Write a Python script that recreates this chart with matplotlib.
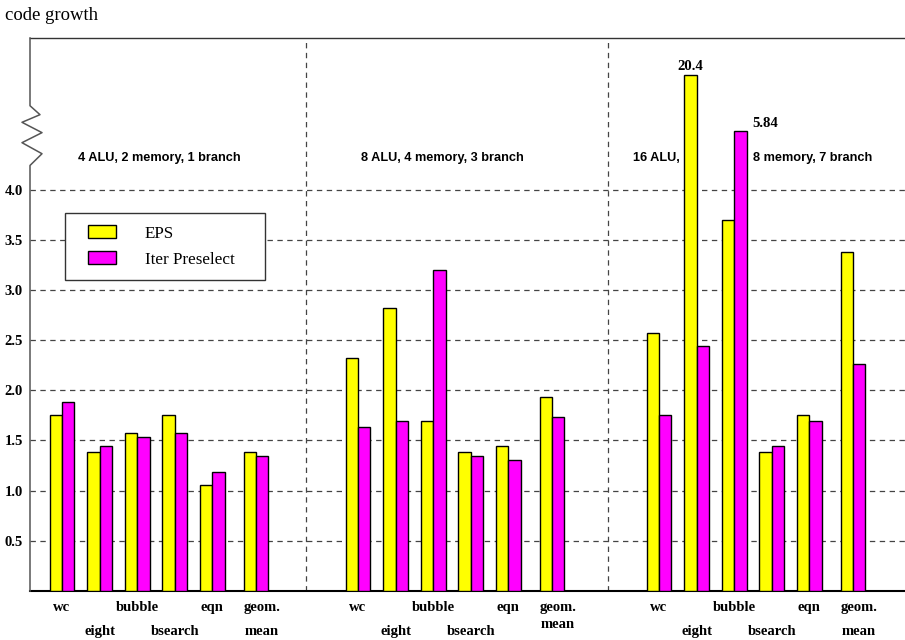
import matplotlib
matplotlib.use("Agg")
import matplotlib.pyplot as plt
from matplotlib.container import BarContainer
from matplotlib.legend_handler import HandlerPatch, update_from_first_child
from matplotlib.patches import Rectangle
import numpy as np

plt.rcParams["font.family"] = "serif"
plt.rcParams["font.serif"] = ["Liberation Serif", "DejaVu Serif"]

benchmarks = ["wc", "eight", "bubble", "bsearch", "eqn", "geom.\nmean"]
configs = ["4 ALU, 2 memory, 1 branch", "8 ALU, 4 memory, 3 branch", "16 ALU, 8 memory, 7 branch"]
series = ["EPS", "Iter Preselect"]

# code growth per config, one list per benchmark order above
eps = [
    [1.75, 1.38, 1.57, 1.75, 1.06, 1.38],
    [2.32, 2.82, 1.69, 1.38, 1.44, 1.93],
    [2.57, 20.4, 3.70, 1.38, 1.75, 3.38],
]
iter_pre = [
    [1.88, 1.44, 1.53, 1.57, 1.19, 1.35],
    [1.63, 1.69, 3.20, 1.35, 1.31, 1.73],
    [1.75, 2.44, 5.84, 1.44, 1.69, 2.26],
]
yticks = [0.5, 1.0, 1.5, 2.0, 2.5, 3.0, 3.5, 4.0]

BREAK = 4.0


def broken(v):
    # values above the break are squeezed into the space above 4.0
    v = np.asarray(v, dtype=float)
    extra = np.clip(v - BREAK, 0, None)
    return np.where(v <= BREAK, v, BREAK + 0.4805 * extra ** 0.309)


def inset_patch(legend, orig_handle, xdescent, ydescent, width, height, fontsize):
    # swatch sits at the right end of the handle box, leaving a gap to the frame
    w = 1.64 * fontsize
    return Rectangle((-xdescent + width - w, -ydescent), w, height)


fig = plt.figure(figsize=(9.05, 6.4), dpi=100)
ax = fig.add_axes([30 / 905, 49 / 640, 875 / 905, 553 / 640])
ax.set_xlim(0, 875)
ax.set_ylim(0, 5.51)

step = 37.6
width = 12.4
group_start = [32, 328, 629]
slot = np.array([0, 1, 2, 3, 4, 5.16]) * step

yellow, magenta = "#ffff00", "#ff00ff"
row1, row2 = 7.0, 24.5
tick_pos, tick_lab, tick_pad = [], [], []
for g in range(3):
    centers = group_start[g] + slot
    b1 = ax.bar(centers - width / 2, broken(eps[g]), width, color=yellow,
                edgecolor="black", linewidth=1.0, zorder=3, label=series[0])
    b2 = ax.bar(centers + width / 2, broken(iter_pre[g]), width, color=magenta,
                edgecolor="black", linewidth=1.0, zorder=3, label=series[1])
    if g == 0:
        handles = [b1, b2]
    for k, name in enumerate(benchmarks):
        x = centers[k]
        if k == 5:
            x += 6
            if g == 1:
                tick_pos.append(x)
                tick_lab.append(name)
                tick_pad.append(row1)
            else:
                first, second = name.split("\n")
                tick_pos += [x, x + 0.01]
                tick_lab += [first, second]
                tick_pad += [row1, row2]
        else:
            tick_pos.append(x)
            tick_lab.append(name)
            tick_pad.append(row1 if k % 2 == 0 else row2)

    # values that run past the break get printed
    for vals, bars, side in ((eps[g], b1, "top"), (iter_pre[g], b2, "right")):
        for v, bar in zip(vals, bars):
            if v > BREAK:
                h = bar.get_height()
                if side == "top":
                    ax.text(bar.get_x() + bar.get_width() / 2, h + 0.02, f"{v:.1f}",
                            ha="center", va="bottom", fontsize=10.6, fontweight="bold")
                else:
                    ax.text(bar.get_x() + bar.get_width() + 6, h + 0.01, f"{v:.2f}",
                            ha="left", va="bottom", fontsize=10.6, fontweight="bold")

ax.set_xticks(tick_pos)
ax.set_xticklabels(tick_lab, fontsize=10.5, fontweight="bold", linespacing=1.45)
for tick, pad in zip(ax.xaxis.get_major_ticks(), tick_pad):
    tick.set_pad(pad)
ax.tick_params(axis="x", length=0)

ax.set_yticks(yticks)
ax.set_yticklabels([f"{t:.1f}" for t in yticks], fontsize=10.5, fontweight="bold")
ax.tick_params(axis="y", length=0, pad=5)
ax.yaxis.grid(True, linestyle=(0, (4.3, 3.6)), color="#444444", linewidth=0.9, zorder=1)
ax.set_axisbelow(True)

for xd in (276, 578):
    ax.axvline(xd, linestyle=(0, (4.3, 3.6)), color="#444444", linewidth=0.9, zorder=1)

# group captions
title_kw = dict(fontsize=9.2, fontweight="bold", family=["Liberation Sans"], va="center")
ax.text(129.5, 4.31, configs[0], ha="center", **title_kw)
ax.text(412.5, 4.31, configs[1], ha="center", **title_kw)
left, right = configs[2].split(", ", 1)
ax.text(626.5, 4.31, left + ",", ha="center", **title_kw)
ax.text(723, 4.31, right, ha="left", **title_kw)

# axis frame with a break marker on the left
ax.spines["right"].set_visible(False)
ax.spines["left"].set_visible(False)
ax.spines["top"].set_color("#333333")
ax.spines["top"].set_linewidth(1.0)
ax.spines["bottom"].set_color("black")
ax.spines["bottom"].set_linewidth(1.5)
zig_x = [0, 0, 12, -8, 12, -8, 10, 0, 0]
zig_y = [0, 4.24, 4.357, 4.467, 4.567, 4.67, 4.746, 4.835, 5.51]
ax.plot(zig_x, zig_y, color="#555555", linewidth=1.1, clip_on=False, zorder=4)

leg = ax.legend(handles=handles, loc="upper left",
                bbox_to_anchor=(65 / 905, 1 - 277 / 640, 200 / 905, 64 / 640),
                bbox_transform=fig.transFigure, mode="expand", borderaxespad=0,
                prop={"size": 12.3}, frameon=True, fancybox=False, framealpha=1,
                edgecolor="#333333", borderpad=0.72, labelspacing=0.58,
                handlelength=2.25, handleheight=0.75, handletextpad=1.7,
                handler_map={BarContainer: HandlerPatch(patch_func=inset_patch,
                                                        update_func=update_from_first_child)})
leg.get_frame().set_linewidth(1.0)

fig.text(5 / 905, 1 - 15 / 640, "code growth", fontsize=13.5, ha="left", va="center")

fig.savefig("out.png", dpi=100)
